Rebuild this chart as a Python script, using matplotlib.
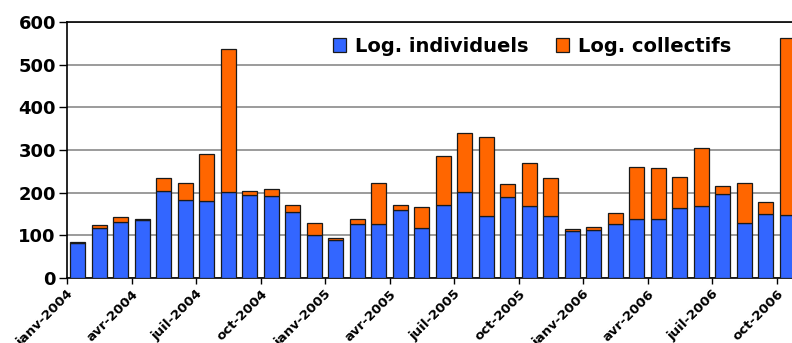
import matplotlib.pyplot as plt
import numpy as np

# mises en chantier mensuelles, janv-2004 -> oct-2006
mois = ['janv-2004', 'févr-2004', 'mars-2004', 'avr-2004', 'mai-2004', 'juin-2004',
        'juil-2004', 'août-2004', 'sept-2004', 'oct-2004', 'nov-2004', 'déc-2004',
        'janv-2005', 'févr-2005', 'mars-2005', 'avr-2005', 'mai-2005', 'juin-2005',
        'juil-2005', 'août-2005', 'sept-2005', 'oct-2005', 'nov-2005', 'déc-2005',
        'janv-2006', 'févr-2006', 'mars-2006', 'avr-2006', 'mai-2006', 'juin-2006',
        'juil-2006', 'août-2006', 'sept-2006', 'oct-2006']
individuels = [82, 117, 132, 136, 203, 183, 180, 201, 194, 192, 155, 101,
               89, 126, 126, 159, 118, 171, 201, 146, 190, 168, 146, 111,
               113, 126, 139, 139, 163, 168, 197, 129, 150, 147]
total = [85, 124, 143, 138, 234, 222, 291, 536, 205, 208, 171, 128,
         93, 138, 222, 172, 166, 287, 339, 330, 220, 269, 234, 114,
         120, 152, 260, 258, 236, 304, 216, 222, 178, 563]
collectifs = [t - i for t, i in zip(total, individuels)]

x = np.arange(len(mois))

fig = plt.figure(figsize=(7.92, 3.43), dpi=100)
# the plot area runs a bit past the right edge of the figure
ax = fig.add_axes([0.0846, 0.1895, 0.923, 0.746])

bleu = '#3366ff'
orange = '#ff6600'
ax.bar(x, individuels, width=0.7, color=bleu, edgecolor='#1a1a1a', linewidth=0.9,
       label='Log. individuels', zorder=3)
ax.bar(x, collectifs, width=0.7, bottom=individuels, color=orange, edgecolor='#1a1a1a',
       linewidth=0.9, label='Log. collectifs', zorder=3)

ax.set_xlim(-0.5, len(mois) - 0.5)
ax.set_ylim(0, 600)
ax.set_yticks(range(0, 601, 100))
ax.yaxis.grid(True, color='#808080', linewidth=1.1, zorder=0)
ax.set_axisbelow(True)

# ticks between categories, one label per quarter
pos = np.arange(0, len(mois), 3) - 0.5
ax.set_xticks(pos)
ax.set_xticklabels([mois[i] for i in range(0, len(mois), 3)], rotation=45,
                   ha='right', rotation_mode='anchor', fontsize=9.5, fontweight='bold')
ax.tick_params(axis='x', length=4, width=1, pad=3)
ax.tick_params(axis='y', length=6, width=1, labelsize=13, pad=2)
for lab in ax.get_yticklabels():
    lab.set_fontweight('bold')

for s in ['left', 'top', 'bottom', 'right']:
    ax.spines[s].set_color('black')
    ax.spines[s].set_linewidth(1.2)

leg = ax.legend(loc='upper center', bbox_to_anchor=(0.636, 1.01), ncol=2, frameon=False,
                prop={'weight': 'bold', 'size': 14}, handlelength=0.7, handleheight=0.7,
                handletextpad=0.45, columnspacing=1.4)

fig.savefig('out.png', dpi=100)
